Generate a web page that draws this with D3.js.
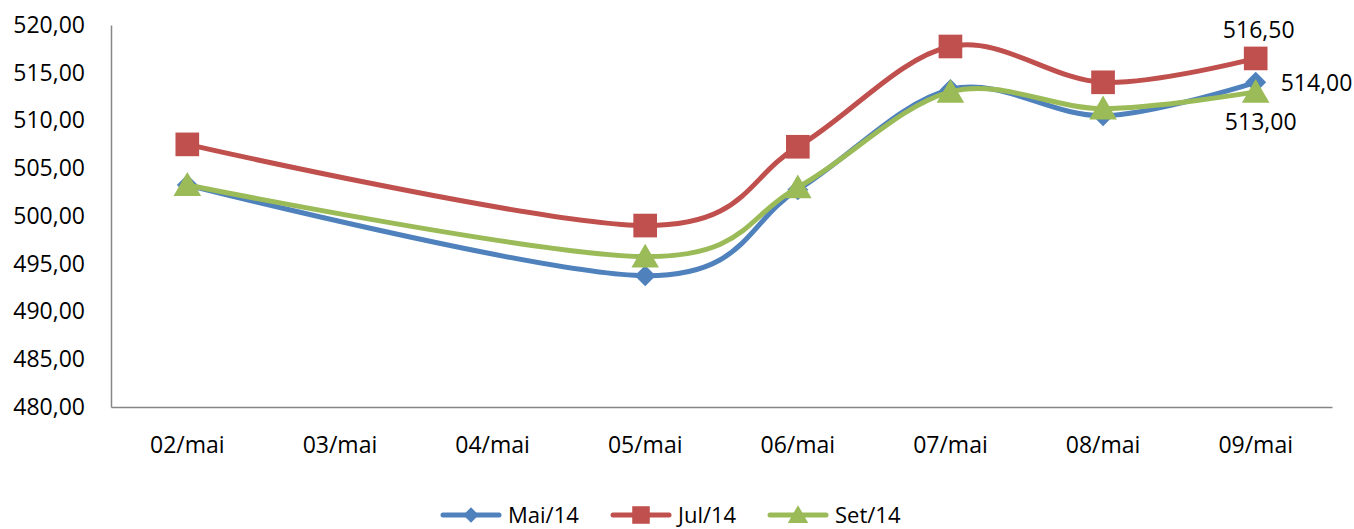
<!DOCTYPE html>
<meta charset="utf-8">
<title>Mai/Jul/Set 14</title>
<style>

body {
  margin: 0;
  background: #fff;
}

text {
  font-family: "Open Sans", "Liberation Sans", sans-serif;
  fill: #000;
}

</style>
<body>
<script src="https://cdn.jsdelivr.net/npm/d3@7/dist/d3.min.js"></script>
<script>
var days = ["02/mai", "03/mai", "04/mai", "05/mai", "06/mai", "07/mai", "08/mai", "09/mai"];

// null = sem cotação nesse dia
var mai14 = [503.25, null, null, 493.75, 502.75, 513.25, 510.50, 514.00];
var jul14 = [507.50, null, null, 499.00, 507.25, 517.75, 514.00, 516.50];
var set14 = [503.25, null, null, 495.75, 503.00, 513.00, 511.25, 513.00];

var seriesNames = ["Mai/14", "Jul/14", "Set/14"];
var yTicks = [480, 485, 490, 495, 500, 505, 510, 515, 520];

var w = 1354,
    h = 529,
    plotLeft = 111,
    plotRight = 1332,
    plotTop = 25,
    plotBottom = 407;

var colors = ["#4f81bd", "#c0504d", "#9bbb59"],
    shapes = [d3.symbolSquare, d3.symbolSquare, d3.symbolTriangle],
    rotate = [45, 0, 0],
    sizes = [220, 560, 330];

var fmt = function(v) { return d3.format(".2f")(v).replace(".", ","); };

var svg = d3.select("body").append("svg")
    .attr("width", w)
    .attr("height", h);

var x = d3.scaleBand()
    .domain(days)
    .range([plotLeft, plotRight]);

var y = d3.scaleLinear()
    .domain([480, 520])
    .range([plotBottom, plotTop]);

var xc = function(d) { return x(d) + x.bandwidth() / 2; };

// eixos
svg.append("g")
    .attr("transform", "translate(" + plotLeft + ",0)")
    .call(d3.axisLeft(y).tickValues(yTicks).tickSize(0).tickPadding(26).tickFormat(fmt))
    .call(function(g) {
      g.select(".domain").attr("stroke", "#868686").attr("stroke-width", 1.5);
      g.selectAll("text").style("font-size", "23px").attr("fill", "#000");
    });

svg.append("g")
    .attr("transform", "translate(0," + plotBottom + ")")
    .call(d3.axisBottom(x).tickSize(0).tickPadding(30))
    .call(function(g) {
      g.select(".domain").attr("stroke", "#868686").attr("stroke-width", 1.5);
      g.selectAll("text").style("font-size", "23px").attr("fill", "#000");
    });

var line = d3.line()
    .x(function(d) { return xc(d.day); })
    .y(function(d) { return y(d.v); })
    .curve(d3.curveCardinal.tension(0));

var allSeries = [mai14, jul14, set14].map(function(vals, i) {
  return {
    name: seriesNames[i],
    color: colors[i],
    shape: shapes[i],
    rot: rotate[i],
    size: sizes[i],
    points: days.map(function(d, j) { return {day: d, v: vals[j]}; })
                .filter(function(p) { return p.v != null; })
  };
});

allSeries.forEach(function(s) {
  var g = svg.append("g");

  g.append("path")
      .attr("d", line(s.points))
      .attr("fill", "none")
      .attr("stroke", s.color)
      .attr("stroke-width", 5)
      .attr("stroke-linecap", "round");

  g.selectAll("path.mark")
      .data(s.points)
    .enter().append("path")
      .attr("class", "mark")
      .attr("transform", function(d) {
        var dy = s.shape === d3.symbolTriangle ? 3 : 0;
        return "translate(" + xc(d.day) + "," + (y(d.v) + dy) + ")rotate(" + s.rot + ")";
      })
      .attr("d", d3.symbol().type(s.shape).size(s.size))
      .attr("fill", s.color);
});

// rótulos do último dia
var lastDay = days[days.length - 1];
var lbl = svg.append("g").style("font-size", "23px");

lbl.append("text")
    .attr("x", xc(lastDay) + 3)
    .attr("y", y(jul14[7]) - 20)
    .attr("text-anchor", "middle")
    .text(fmt(jul14[7]));

lbl.append("text")
    .attr("x", xc(lastDay) + 25)
    .attr("y", y(mai14[7]) + 9)
    .text(fmt(mai14[7]));

lbl.append("text")
    .attr("x", xc(lastDay) + 5)
    .attr("y", y(set14[7]) + 38)
    .attr("text-anchor", "middle")
    .text(fmt(set14[7]));

// legenda
var legX = [443, 613, 770];
var leg = svg.selectAll("g.legend")
    .data(allSeries)
  .enter().append("g")
    .attr("class", "legend")
    .attr("transform", function(d, i) { return "translate(" + legX[i] + ",515)"; });

leg.append("line")
    .attr("x1", 0)
    .attr("x2", 56)
    .attr("stroke", function(d) { return d.color; })
    .attr("stroke-width", 5)
    .attr("stroke-linecap", "round");

leg.append("path")
    .attr("transform", function(d) {
      return "translate(28," + (d.shape === d3.symbolTriangle ? 2 : 0) + ")rotate(" + d.rot + ")";
    })
    .attr("d", function(d) { return d3.symbol().type(d.shape).size(d.size * 0.55)(); })
    .attr("fill", function(d) { return d.color; });

leg.append("text")
    .attr("x", 65)
    .attr("dy", "0.35em")
    .style("font-size", "22px")
    .text(function(d) { return d.name; });
</script>
